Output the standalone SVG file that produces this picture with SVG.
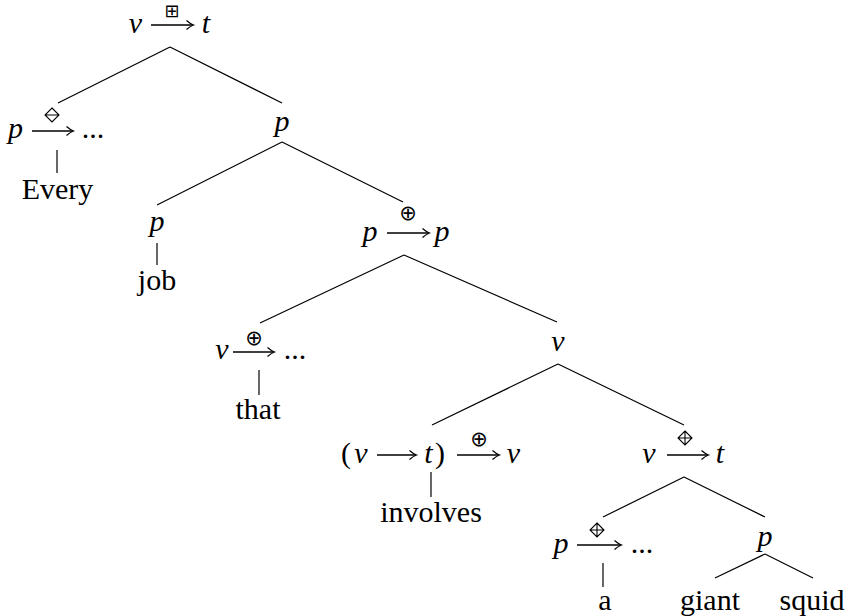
<svg xmlns="http://www.w3.org/2000/svg" width="849" height="616" viewBox="0 0 849 616" font-family="Liberation Serif, serif" font-size="30" text-anchor="middle">
<defs>
<style>
.m{font-style:italic;fill:#000}
.r{font-style:normal;fill:#000}
.op{fill:#000}
.arr{fill:none;stroke:#000;stroke-width:1.3;marker-end:url(#ah)}
.e{fill:none;stroke:#000;stroke-width:1.2}
.dm{fill:none;stroke:#000;stroke-width:1.1}
</style>
<marker id="ah" markerWidth="12" markerHeight="12" refX="8" refY="6" orient="auto" markerUnits="userSpaceOnUse" overflow="visible">
<path d="M1.5,1.5 Q5.5,5 8.5,6 Q5.5,7 1.5,10.5" fill="none" stroke="#000" stroke-width="1.2"/>
</marker>
</defs>
<rect width="849" height="616" fill="#fff"/>
<g id="connectors">
<path class="e" d="M170,47L58,103M170,47L282,103"/>
<path class="e" d="M57,150V173"/>
<path class="e" d="M282,142L157,205M282,142L403,202"/>
<path class="e" d="M157,243V265"/>
<path class="e" d="M404,255L260,323M404,255L557,322"/>
<path class="e" d="M259,370V395"/>
<path class="e" d="M558,364L432,425M558,364L684,425"/>
<path class="e" d="M431,472V497"/>
<path class="e" d="M684,477L603,517M684,477L765,517"/>
<path class="e" d="M603,563V587"/>
<path class="e" d="M765,554L715,578M765,554L813,578"/>
</g>
<g id="n-root">
<text class="m" x="135.5" y="33">v</text>
<path class="arr" d="M151,25H193"/>
<text class="op" x="172" y="16.5" font-family="DejaVu Sans, sans-serif" font-size="18">⊞</text>
<text class="m" x="206" y="33">t</text>
</g>
<g id="n-every-fn">
<text class="m" x="15.5" y="138">p</text>
<path class="arr" d="M32,131H73"/>
<path class="dm" d="M52,108L59,115L52,122L45,115ZM45,115H59"/>
<text class="r" x="93" y="138">...</text>
</g>
<g id="n-every"><text class="r" x="57.5" y="199">Every</text></g>
<g id="n-p1"><text class="m" x="282" y="131">p</text></g>
<g id="n-p-job"><text class="m" x="157" y="231">p</text></g>
<g id="n-job"><text class="r" x="157" y="290">job</text></g>
<g id="n-pp">
<text class="m" x="370" y="241">p</text>
<path class="arr" d="M387,233H429"/>
<text class="op" x="408" y="219.5" font-family="DejaVu Sans, sans-serif" font-size="21">⊕</text>
<text class="m" x="442" y="241">p</text>
</g>
<g id="n-that-fn">
<text class="m" x="222" y="359">v</text>
<path class="arr" d="M233,352H274"/>
<text class="op" x="254" y="344.5" font-family="DejaVu Sans, sans-serif" font-size="21">⊕</text>
<text class="r" x="295" y="359">...</text>
</g>
<g id="n-that"><text class="r" x="258" y="419">that</text></g>
<g id="n-v1"><text class="m" x="558" y="351">v</text></g>
<g id="n-involves-fn">
<text class="r" x="346" y="462.5">(</text>
<text class="m" x="361" y="462.5">v</text>
<path class="arr" d="M377,455H416"/>
<text class="m" x="428.5" y="462.5">t</text>
<text class="r" x="440" y="462.5">)</text>
<path class="arr" d="M457,455H499"/>
<text class="op" x="479" y="445.5" font-family="DejaVu Sans, sans-serif" font-size="21">⊕</text>
<text class="m" x="513.5" y="462.5">v</text>
</g>
<g id="n-involves"><text class="r" x="431" y="522">involves</text></g>
<g id="n-vt">
<text class="m" x="649" y="462.5">v</text>
<path class="arr" d="M667,455H708"/>
<path class="dm" d="M685,431L692,438L685,445L678,438ZM678,438H692M685,431V445"/>
<text class="m" x="720" y="462.5">t</text>
</g>
<g id="n-a-fn">
<text class="m" x="561" y="552.5">p</text>
<path class="arr" d="M577,545H621"/>
<path class="dm" d="M597,523L604,530L597,537L590,530ZM590,530H604M597,523V537"/>
<text class="r" x="642" y="552.5">...</text>
</g>
<g id="n-a"><text class="r" x="605" y="610">a</text></g>
<g id="n-p2"><text class="m" x="765" y="546">p</text></g>
<g id="n-giant"><text class="r" x="710" y="610">giant</text></g>
<g id="n-squid"><text class="r" x="812" y="610">squid</text></g>
</svg>
